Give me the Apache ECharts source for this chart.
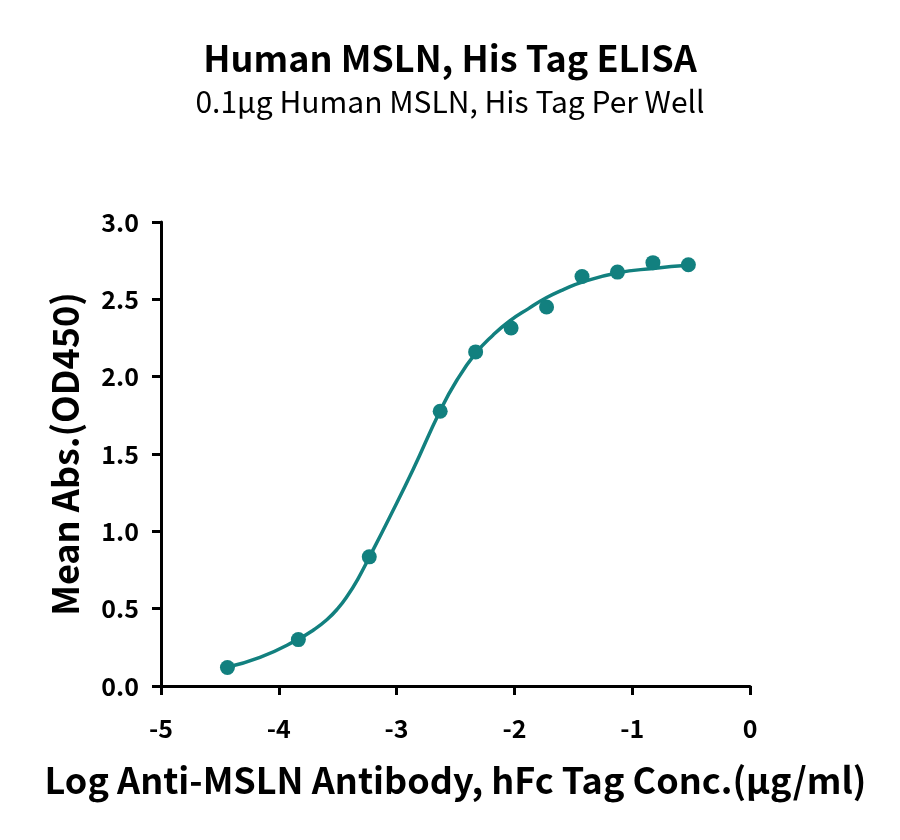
<!DOCTYPE html>
<html>
<head>
<meta charset="utf-8">
<script src="https://cdn.jsdelivr.net/npm/echarts@6/dist/echarts.min.js"></script>
<style>
  html, body { margin: 0; padding: 0; background: #fff; }
  #chart { width: 900px; height: 840px; }
</style>
</head>
<body>
<div id="chart"></div>
<script>
// measured points: log conc (ug/ml) and mean OD450
const logConc = [-4.436, -3.834, -3.232, -2.630, -2.329, -2.028, -1.727, -1.426, -1.125, -0.824, -0.523];
const meanOD = [0.12, 0.30, 0.835, 1.776, 2.16, 2.315, 2.45, 2.648, 2.676, 2.737, 2.724];

// fitted curve
const fitX = [-4.45, -4.16, -3.84, -3.70, -3.59, -3.50, -3.42, -3.33, -3.23, -3.06, -2.86, -2.63, -2.49, -2.33, -2.18, -2.04, -1.88, -1.73, -1.58, -1.43, -1.13, -0.82, -0.52];
const fitY = [0.12, 0.185, 0.30, 0.365, 0.43, 0.50, 0.58, 0.69, 0.835, 1.09, 1.40, 1.78, 1.975, 2.15, 2.27, 2.36, 2.44, 2.51, 2.565, 2.61, 2.67, 2.70, 2.72];

const xTicks = [-5, -4, -3, -2, -1, 0];
const yTicks = [0, 0.5, 1, 1.5, 2, 2.5, 3];

const teal = '#12807f';
const font = 'Noto Sans CJK SC';

const axisLine = {
    show: true,
    onZero: false,
    lineStyle: { color: '#000', width: 3 }
};
const axisTick = {
    show: true,
    length: 9,
    lineStyle: { color: '#000', width: 3 }
};
const tickLabel = {
    color: '#000',
    fontSize: 25,
    fontWeight: 'bold',
    fontFamily: font
};

const option = {
    backgroundColor: '#fff',
    animation: false,
    title: {
        left: 'center',
        top: 35,
        text: 'Human MSLN, His Tag ELISA',
        subtext: '0.1μg Human MSLN, His Tag Per Well',
        itemGap: 11,
        textStyle: { color: '#000', fontSize: 36, fontWeight: 'bold', fontFamily: font },
        subtextStyle: { color: '#000', fontSize: 30, fontFamily: font }
    },
    grid: {
        left: 161,
        right: 150,
        top: 222,
        bottom: 154
    },
    xAxis: {
        type: 'value',
        min: xTicks[0],
        max: xTicks[xTicks.length - 1],
        interval: 1,
        splitLine: { show: false },
        axisLine: axisLine,
        axisTick: axisTick,
        axisLabel: Object.assign({ margin: 30 }, tickLabel),
        name: 'Log Anti-MSLN Antibody, hFc Tag Conc.(μg/ml)',
        nameLocation: 'middle',
        nameGap: 76,
        nameTextStyle: { color: '#000', fontSize: 36, fontWeight: 'bold', fontFamily: font }
    },
    yAxis: {
        type: 'value',
        min: yTicks[0],
        max: yTicks[yTicks.length - 1],
        interval: 0.5,
        splitLine: { show: false },
        axisLine: axisLine,
        axisTick: axisTick,
        axisLabel: Object.assign({
            margin: 22,
            formatter: v => v.toFixed(1)
        }, tickLabel),
        name: 'Mean Abs.(OD450)',
        nameLocation: 'middle',
        nameGap: 78,
        nameTextStyle: { color: '#000', fontSize: 36, fontWeight: 'bold', fontFamily: font }
    },
    series: [
        {
            type: 'line',
            data: fitX.map((x, i) => [x, fitY[i]]),
            smooth: true,
            showSymbol: false,
            lineStyle: { color: teal, width: 3.5 },
            z: 2
        },
        {
            type: 'scatter',
            data: logConc.map((x, i) => [x, meanOD[i]]),
            symbol: 'circle',
            symbolSize: 15,
            itemStyle: { color: teal, opacity: 1 },
            z: 3
        }
    ]
};

const chart = echarts.init(document.getElementById('chart'));
chart.setOption(option);
</script>
</body>
</html>
